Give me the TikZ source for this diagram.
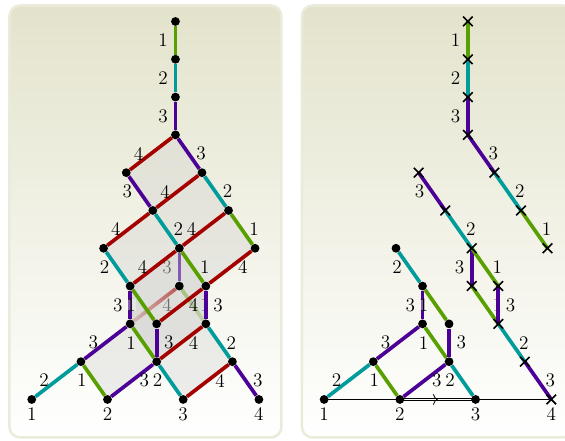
\documentclass[tikz,border=0pt]{standalone}
\usepackage{tikz}
\usetikzlibrary{arrows.meta,positioning,shapes.misc,backgrounds,fadings,decorations.markings}
\definecolor{hgreen}{RGB}{88,160,0}
\definecolor{hteal}{RGB}{0,155,155}
\definecolor{hpurple}{RGB}{75,0,150}
\definecolor{hred}{RGB}{165,0,0}
\definecolor{paneltop}{RGB}{227,227,204}
\definecolor{panelrim}{RGB}{235,235,220}
\tikzfading[name=fadeleft,left color=transparent!85,right color=transparent!40]
\tikzfading[name=faderight,left color=transparent!55,right color=transparent!80]

\begin{document}
\begin{tikzpicture}[
  on grid,
  panel/.style={rectangle,rounded corners=8pt,draw=panelrim,line width=1.9pt,top color=paneltop,bottom color=white,minimum width=204pt,minimum height=324pt},
  dot/.style={circle,fill=black,inner sep=0pt,minimum size=6.6pt},
  xmark/.style={cross out,draw=black,line width=1.2pt,inner sep=0pt,minimum size=6pt},
  dn/.style={below=28.35pt of #1},
  dl/.style={below left=28.35pt and 36.9pt of #1},
  dr/.style={below right=28.35pt and 19.9pt of #1},
  tile/.style={fill=black!20,opacity=.32},
  gedge/.style={draw=hgreen,line width=2.75pt},
  tedge/.style={draw=hteal,line width=2.75pt},
  pedge/.style={draw=hpurple,line width=2.75pt},
  redge/.style={draw=hred,line width=2.75pt},
  lab/.style={font=\fontsize{14.4}{16}\selectfont,inner sep=0pt},
  ll/.style={lab,xshift=-9.2pt},
  lr/.style={lab,xshift=9.2pt},
  ghost/.style={text opacity=.5},
  halo/.style={fill=white,fill opacity=.35,text opacity=1},
  >={To[length=3.5pt,width=8pt]}
]
\useasboundingbox (0,0) rectangle (423.75pt,330pt);
\begin{scope}[on background layer]
\node[panel] (lpanel) at (109.1pt,163.9pt) {};
\node[panel,right=219.3pt of lpanel] (rpanel) {};
\end{scope}

% left panel
\node[dot] (t0) at (131.6pt,313.9pt) {};
\node[dot,dn=t0] (t1) {};
\node[dot,dn=t1] (t2) {};
\node[dot,dn=t2] (t3) {};
\node[dot,dl=t3] (p1) {};
\node[dot,dr=t3] (p2) {};
\node[dot,dr=p1] (q1) {};
\node[dot,dr=p2] (q2) {};
\node[dot,dl=q1] (k) {};
\node[dot,dr=q1] (l) {};
\node[dot,dr=q2] (m) {};
\node[dot,dr=k] (h) {};
\node[dot,dn=l] (i) {};
\node[dot,dr=l] (j) {};
\node[dot,dn=h] (e) {};
\node[dot,dr=h] (f) {};
\node[dot,dn=j] (g) {};
\node[dot,dl=e] (b) {};
\node[dot,dr=e] (c) {};
\node[dot,dr=g] (d) {};
\node[dot,dl=b] (a1) {};
\node[dot,dr=b] (a2) {};
\node[dot,dr=c] (a3) {};
\node[dot,dr=d] (a4) {};
\node[lab,below=11pt of a1] (n1) {1};
\node[lab,below=11pt of a2] (n2) {2};
\node[lab,below=11pt of a3] (n3) {3};
\node[lab,below=11pt of a4] (n4) {4};

% right panel
\node[xmark,right=219.3pt of t0] (rt0) {};
\node[xmark,dn=rt0] (rt1) {};
\node[xmark,dn=rt1] (rt2) {};
\node[xmark,dn=rt2] (rt3) {};
\node[xmark,dl=rt3] (rp1) {};
\node[xmark,dr=rt3] (rp2) {};
\node[xmark,dr=rp1] (rq1) {};
\node[xmark,dr=rp2] (rq2) {};
\node[dot,dl=rq1] (rk) {};
\node[xmark,dr=rq1] (rl) {};
\node[xmark,dr=rq2] (rm) {};
\node[dot,dr=rk] (rh) {};
\node[xmark,dn=rl] (ri) {};
\node[xmark,dr=rl] (rj) {};
\node[dot,dn=rh] (re) {};
\node[dot,dr=rh] (rf) {};
\node[xmark,dn=rj] (rg) {};
\node[dot,dl=re] (rb) {};
\node[dot,dr=re] (rc) {};
\node[xmark,dr=rg] (rd) {};
\node[dot,dl=rb] (ra1) {};
\node[dot,dr=rb] (ra2) {};
\node[dot,dr=rc] (ra3) {};
\node[xmark,dr=rd] (ra4) {};
\node[lab,below=11pt of ra1] (rn1) {1};
\node[lab,below=11pt of ra2] (rn2) {2};
\node[lab,below=11pt of ra3] (rn3) {3};
\node[lab,below=11pt of ra4] (rn4) {4};

\begin{scope}[on background layer]
% tiles
\fill[tile] (t3.center) -- (p2.center) -- (q1.center) -- (p1.center) -- cycle;
\fill[tile] (p2.center) -- (q2.center) -- (l.center) -- (q1.center) -- cycle;
\fill[tile] (q1.center) -- (l.center) -- (h.center) -- (k.center) -- cycle;
\fill[tile] (q2.center) -- (m.center) -- (j.center) -- (l.center) -- cycle;
\fill[tile] (h.center) -- (e.center) -- (c.center) -- (f.center) -- cycle;
\fill[tile,opacity=.18] (h.center) -- (e.center) -- (c.center) -- (f.center) -- cycle;
\fill[tile] (h.center) -- (l.center) -- (i.center) -- (e.center) -- cycle;
\fill[tile] (l.center) -- (j.center) -- (g.center) -- (i.center) -- cycle;
\fill[tile] (i.center) -- (g.center) -- (c.center) -- (e.center) -- cycle;
\fill[tile] (h.center) -- (f.center) -- (j.center) -- (l.center) -- cycle;
\fill[tile] (f.center) -- (j.center) -- (g.center) -- (c.center) -- cycle;
\fill[tile] (b.center) -- (e.center) -- (c.center) -- (a2.center) -- cycle;
\fill[tile] (c.center) -- (g.center) -- (d.center) -- (a3.center) -- cycle;

% hidden edges
\draw[pedge,draw opacity=.6] (l) -- node[ll,ghost] {3} (i);
\draw[redge,path fading=fadeleft] (e) -- (i);
\draw[gedge,path fading=faderight] (i) -- (g);
\path (e) -- node[lr,ghost] {4} (i);
\path (i) -- node[lr,ghost] {1} (g);

% left edges
\draw[gedge] (t0) -- node[ll] {1} (t1);
\draw[tedge] (t1) -- node[ll] {2} (t2);
\draw[pedge] (t2) -- node[ll] {3} (t3);
\draw[redge] (t3) -- node[ll] {4} (p1);
\draw[pedge] (t3) -- node[lr] {3} (p2);
\draw[pedge] (p1) -- node[ll] {3} (q1);
\draw[redge] (p2) -- node[ll] {4} (q1);
\draw[tedge] (p2) -- node[lr] {2} (q2);
\draw[redge] (q1) -- node[ll] {4} (k);
\draw[tedge] (q1) -- node[lr] {2} (l);
\draw[redge] (q2) -- node[ll] {4} (l);
\draw[gedge] (q2) -- node[lr] {1} (m);
\draw[tedge] (k) -- node[ll] {2} (h);
\draw[redge] (l) -- node[ll] {4} (h);
\draw[gedge] (l) -- node[lr] {1} (j);
\draw[redge] (m) -- node[lr] {4} (j);
\draw[pedge] (h) -- node[ll] {3} (e);
\draw[gedge] (h) -- node[ll,halo] {1} (f);
\draw[redge] (j) -- node[lr] {4} (f);
\draw[pedge] (j) -- node[lr] {3} (g);
\draw[pedge] (e) -- node[ll] {3} (b);
\draw[gedge] (e) -- node[ll] {1} (c);
\draw[pedge] (f) -- node[lr] {3} (c);
\draw[redge] (g) -- node[lr] {4} (c);
\draw[tedge] (g) -- node[lr] {2} (d);
\draw[tedge] (b) -- node[ll] {2} (a1);
\draw[gedge] (b) -- node[ll] {1} (a2);
\draw[pedge] (c) -- node[lr] {3} (a2);
\draw[tedge] (c) -- node[ll] {2} (a3);
\draw[redge] (d) -- node[lr] {4} (a3);
\draw[pedge] (d) -- node[lr] {3} (a4);

% right edges
\draw[line width=.6pt] (ra1.center) -- (ra2.center);
\draw[line width=.6pt] (ra3.center) -- (ra4.center);
\draw[line width=.5pt,double,double distance=1.3pt,decoration={markings,mark=at position .5 with {\arrow[line width=.6pt]{>}}},postaction={decorate}] (ra2.center) -- (ra3.center);
\draw[gedge] (rt0.center) -- node[ll] {1} (rt1.center);
\draw[tedge] (rt1.center) -- node[ll] {2} (rt2.center);
\draw[pedge] (rt2.center) -- node[ll] {3} (rt3.center);
\draw[pedge] (rt3.center) -- node[lr] {3} (rp2.center);
\draw[tedge] (rp2.center) -- node[lr] {2} (rq2.center);
\draw[gedge] (rq2.center) -- node[lr] {1} (rm.center);
\draw[pedge] (rp1.center) -- node[ll] {3} (rq1.center);
\draw[tedge] (rq1.center) -- node[lr] {2} (rl.center);
\draw[pedge] (rl.center) -- node[ll] {3} (ri.center);
\draw[gedge] (rl.center) -- node[lr] {1} (rj.center);
\draw[gedge] (ri.center) -- node[lr,ghost] {1} (rg.center);
\draw[pedge] (rj.center) -- node[lr] {3} (rg.center);
\draw[tedge] (rg.center) -- node[lr] {2} (rd.center);
\draw[pedge] (rd.center) -- node[lr] {3} (ra4.center);
\draw[tedge] (rk) -- node[ll] {2} (rh);
\draw[pedge] (rh) -- node[ll] {3} (re);
\draw[gedge] (rh) -- node[ll,halo] {1} (rf);
\draw[pedge] (re) -- node[ll] {3} (rb);
\draw[gedge] (re) -- node[ll] {1} (rc);
\draw[pedge] (rf) -- node[lr] {3} (rc);
\draw[tedge] (rb) -- node[ll] {2} (ra1);
\draw[gedge] (rb) -- node[ll] {1} (ra2);
\draw[pedge] (rc) -- node[lr] {3} (ra2);
\draw[tedge] (rc) -- node[ll] {2} (ra3);
\end{scope}
\end{tikzpicture}
\end{document}
